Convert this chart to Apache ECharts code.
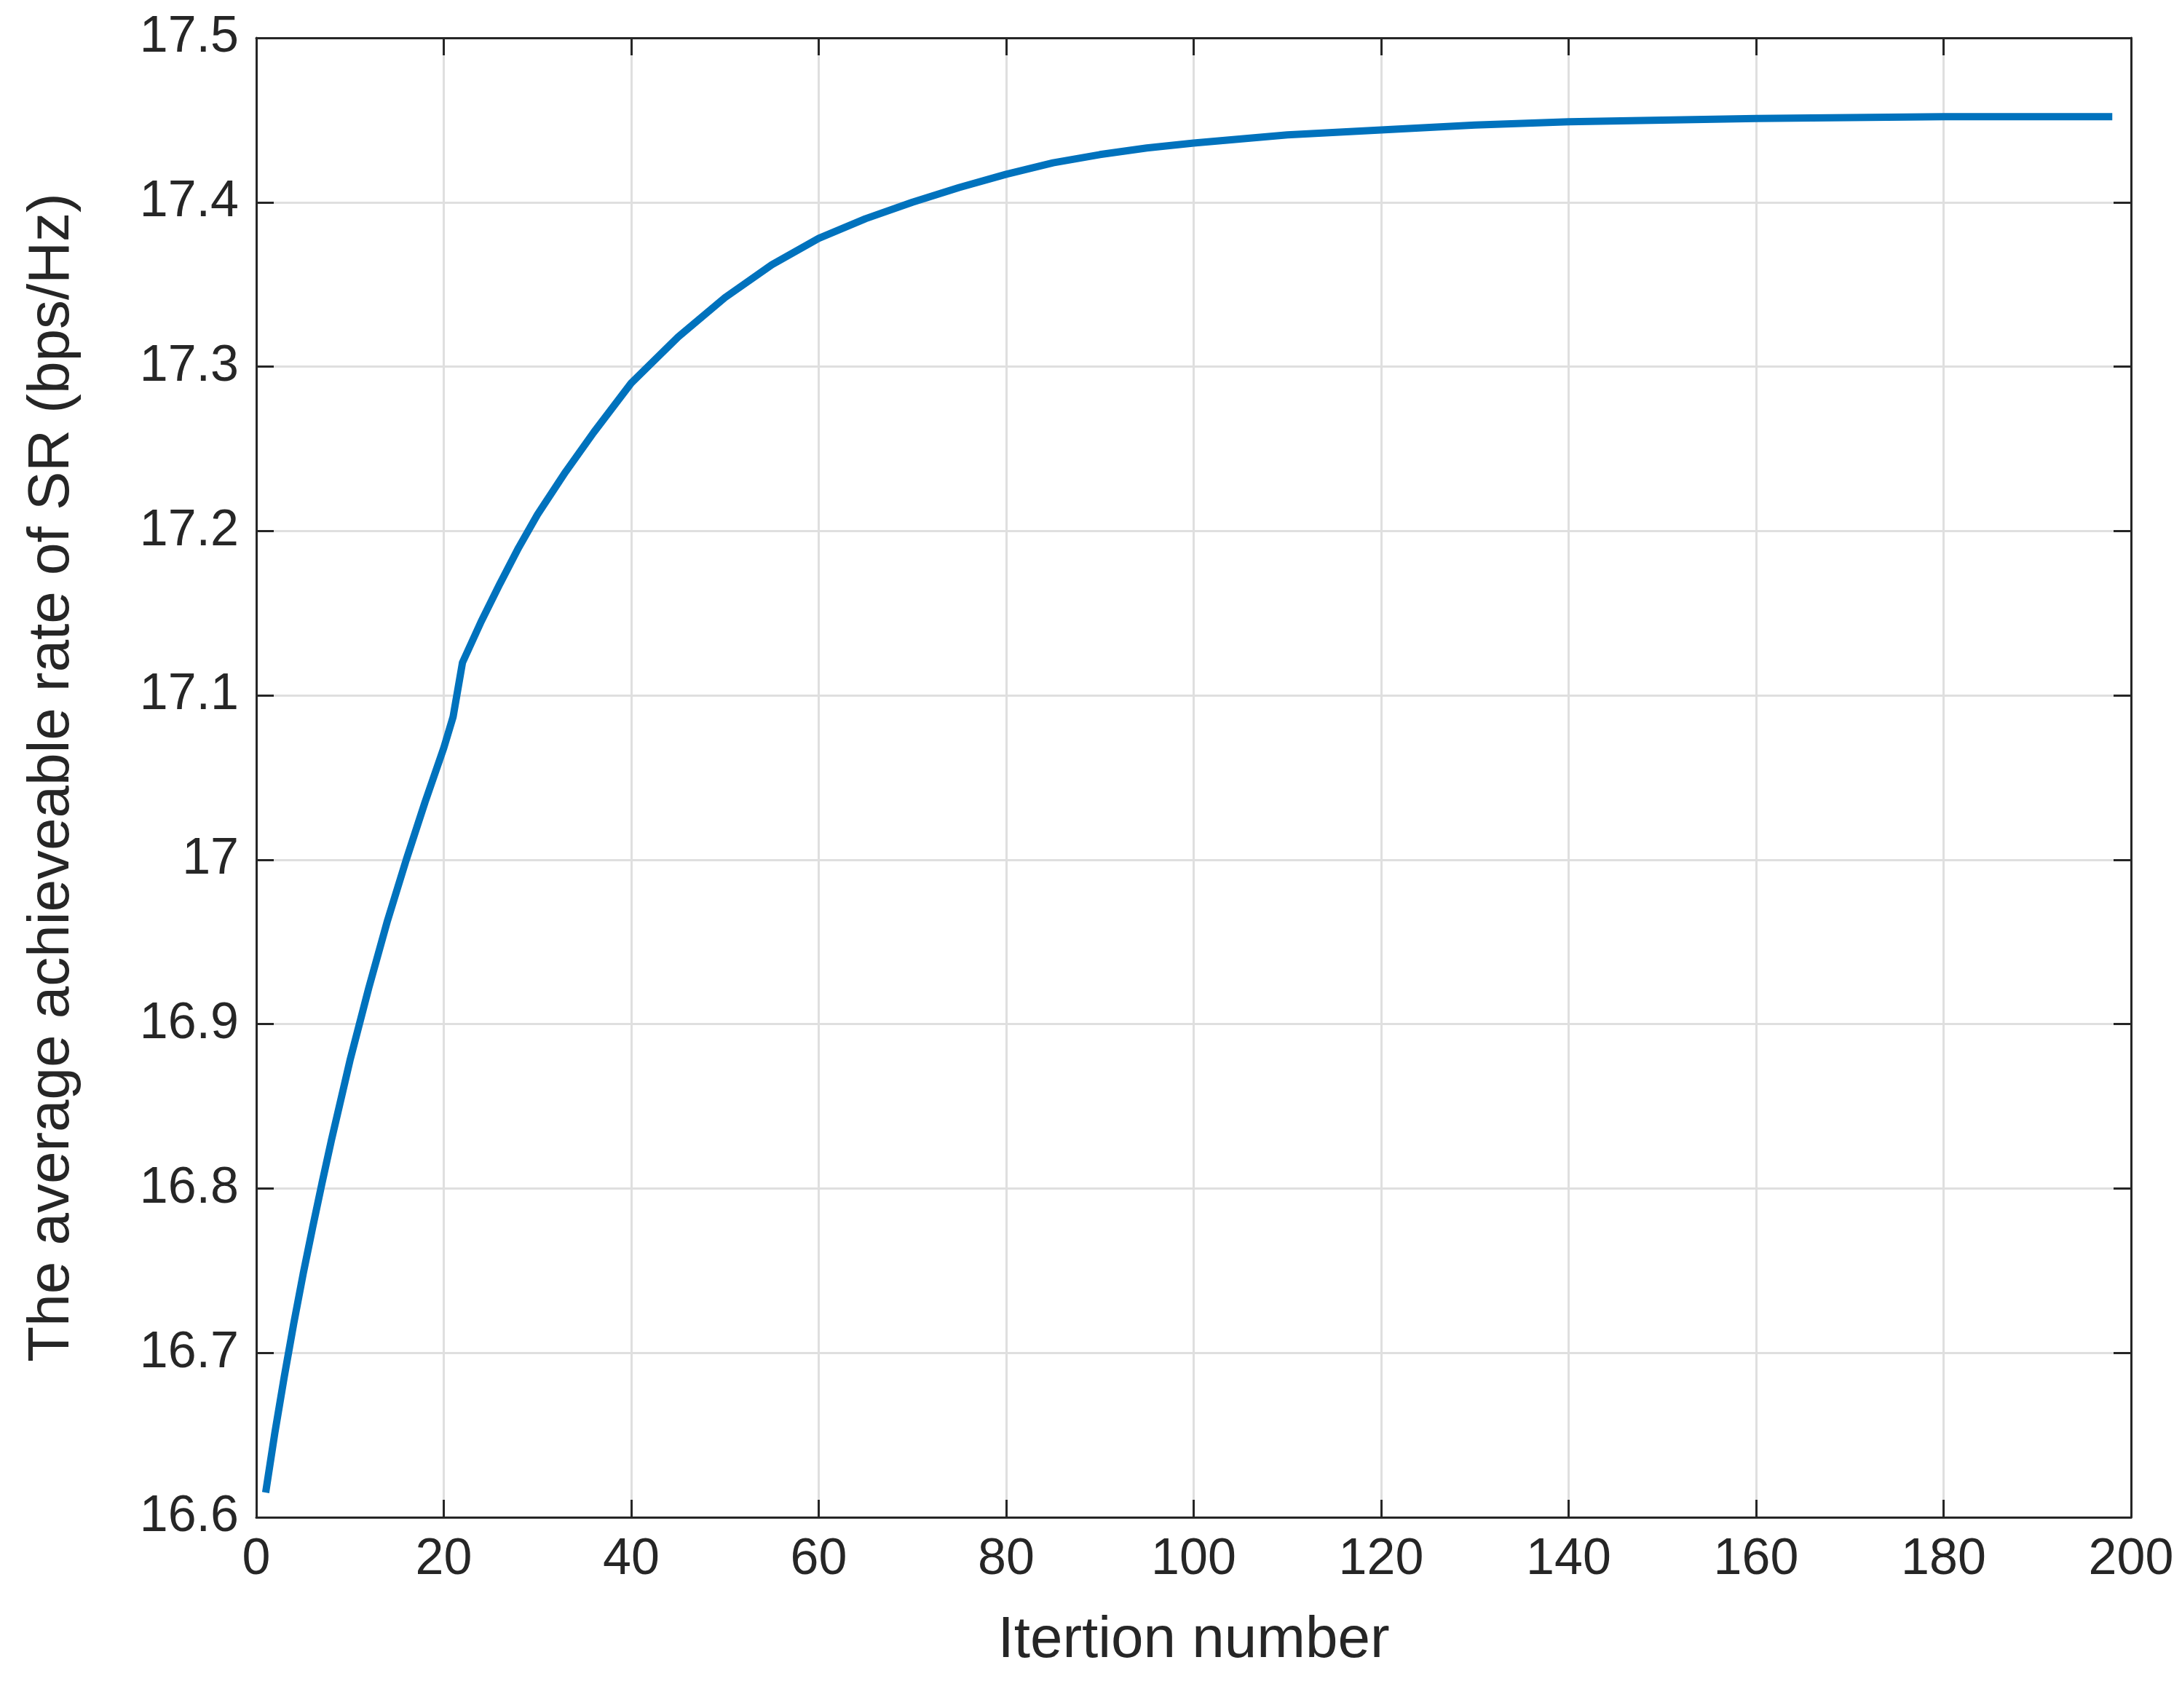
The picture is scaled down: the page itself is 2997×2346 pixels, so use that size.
<!DOCTYPE html>
<html>
<head>
<meta charset="utf-8">
<script src="https://cdn.jsdelivr.net/npm/echarts@6/dist/echarts.min.js"></script>
<style>
  html, body { margin: 0; padding: 0; background: #fff; }
  #chart { width: 2997px; height: 2346px; }
</style>
</head>
<body>
<div id="chart"></div>
<script>
// iteration index and average achievable rate
const iterations = [1, 2, 3, 4, 5, 6, 7, 8, 10, 12, 14, 16, 18, 20, 21, 22, 24, 26, 28, 30, 33, 36, 40, 45, 50, 55, 60, 65, 70, 75, 80, 85, 90, 95, 100, 110, 120, 130, 140, 150, 160, 180, 198];
const rates = [16.615, 16.652, 16.686, 16.718, 16.748, 16.776, 16.803, 16.829, 16.878, 16.922, 16.963, 17.0, 17.035, 17.068, 17.087, 17.12, 17.145, 17.168, 17.19, 17.21, 17.236, 17.26, 17.29, 17.318, 17.342, 17.362, 17.378, 17.39, 17.4, 17.409, 17.417, 17.424, 17.429, 17.433, 17.436, 17.441, 17.444, 17.447, 17.449, 17.45, 17.451, 17.452, 17.452];

const chart = echarts.init(document.getElementById('chart'));
const font = 'Liberation Sans, Arial, sans-serif';
const axisLine = { show: true, onZero: false, lineStyle: { color: '#262626', width: 3 } };
const tick = { show: true, inside: true, length: 24, lineStyle: { color: '#262626', width: 3 } };

chart.setOption({
    animation: false,
    backgroundColor: '#fff',
    grid: { left: 352, right: 70, top: 52, bottom: 262 },
    xAxis: [{
        type: 'value', min: 0, max: 200, interval: 20,
        name: 'Itertion number', nameLocation: 'middle', nameGap: 130,
        nameTextStyle: { fontFamily: font, fontSize: 80, color: '#262626' },
        axisLine, axisTick: tick,
        axisLabel: { fontFamily: font, fontSize: 70, color: '#262626', margin: 24 },
        splitLine: { show: true, lineStyle: { color: '#dfdfdf', width: 3 } }
    }, {
        type: 'value', position: 'top', min: 0, max: 200, interval: 20,
        axisLine, axisTick: tick, axisLabel: { show: false }, splitLine: { show: false }
    }],
    yAxis: [{
        type: 'value', min: 16.6, max: 17.5, interval: 0.1,
        name: 'The average achieveable rate of SR (bps/Hz)', nameLocation: 'middle', nameGap: 240,
        nameTextStyle: { fontFamily: font, fontSize: 80, color: '#262626' },
        axisLine, axisTick: tick,
        axisLabel: { fontFamily: font, fontSize: 70, color: '#262626', margin: 24,
            formatter: v => String(Math.round(v * 10) / 10) },
        splitLine: { show: true, lineStyle: { color: '#dfdfdf', width: 3 } }
    }, {
        type: 'value', position: 'right', min: 16.6, max: 17.5, interval: 0.1,
        axisLine, axisTick: tick, axisLabel: { show: false }, splitLine: { show: false }
    }],
    series: [{
        type: 'line',
        data: iterations.map((x, i) => [x, rates[i]]),
        showSymbol: false,
        lineStyle: { color: '#0072bd', width: 10 }
    }]
});
</script>
</body>
</html>
